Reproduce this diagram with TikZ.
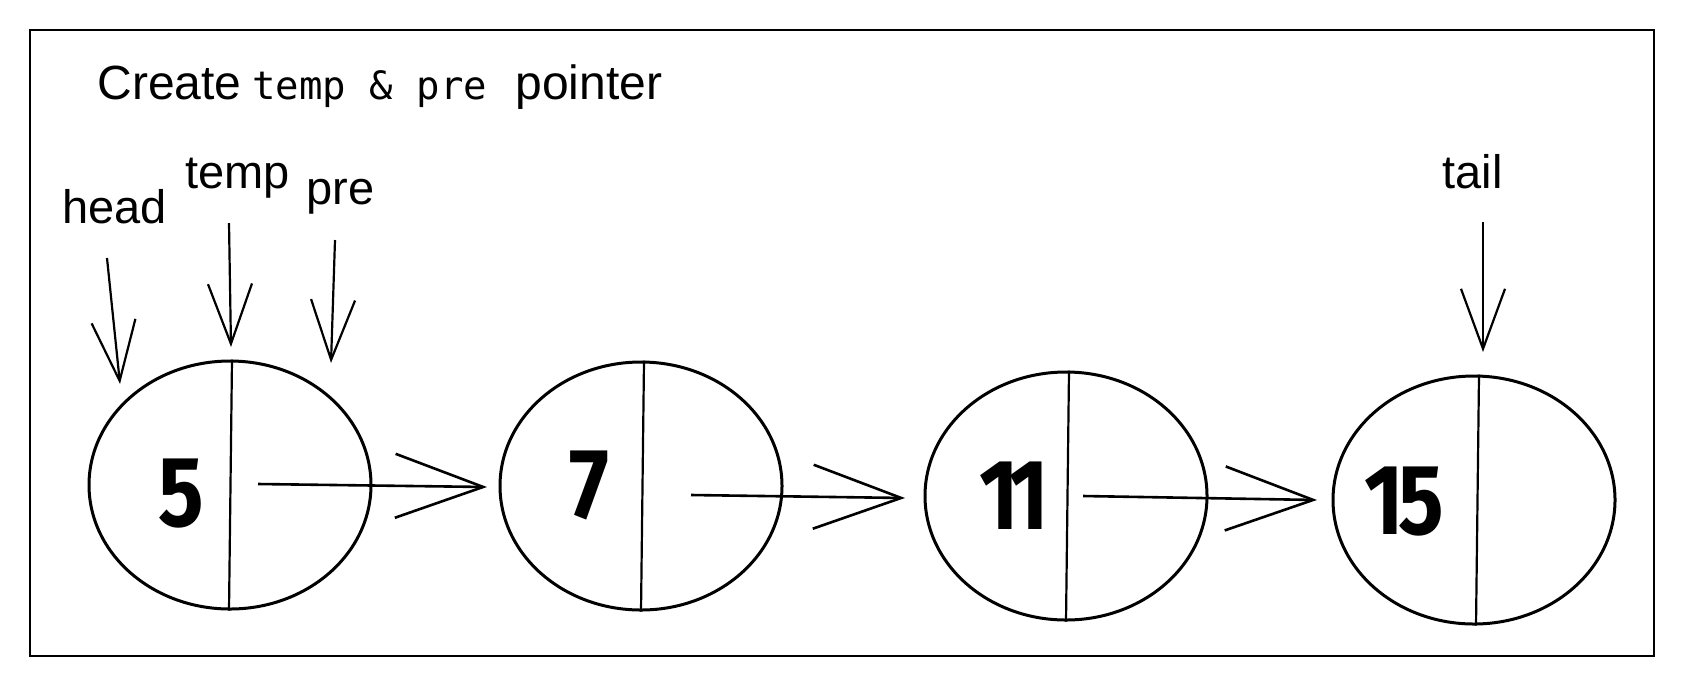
\documentclass[tikz,border=0pt]{standalone}
\usepackage{fontspec}
\setmainfont{Liberation Sans}
\newfontfamily\codefont{DejaVu Sans Mono}
\newfontfamily\numfont[FakeStretch=0.85]{Fira Sans}
\usetikzlibrary{arrows.meta,shapes.geometric}
\begin{document}
\begin{tikzpicture}[x=0.5pt,y=-0.5pt,
  listnode/.style={draw, ellipse, line width=1.5pt, minimum width=141pt, minimum height=124pt, inner sep=0pt},
  divider/.style={line width=1.1pt},
  numlabel/.style={font=\numfont\bfseries\fontsize{50}{50}\selectfont, inner sep=0pt},
  ptrlabel/.style={font=\fontsize{23.5}{26}\selectfont, inner sep=0pt, anchor=base west},
  titletext/.style={font=\fontsize{24}{28}\selectfont, inner sep=0pt, anchor=base west},
  ptrarrow/.style={line width=1.1pt, -{Straight Barb[length=30pt,width=22pt]}},
  linkarrow/.style={line width=1.3pt, -{Straight Barb[length=44pt,width=32pt]}},
  frame/.style={draw, line width=1.1pt}]
\useasboundingbox (0,0) rectangle (1684,687);
\draw[frame] (30,30) rectangle (1654,656);

% title
\node[titletext] (t1) at (97,99) {Create};
\node[titletext, font=\codefont\fontsize{19.5}{24}\selectfont] (t2) at (252,99) {temp \& pre};
\node[titletext] (t3) at (515,99) {pointer};

% list nodes
\node[listnode] (n1) at (230,485) {};
\node[listnode] (n2) at (641,486) {};
\node[listnode] (n3) at (1066,496) {};
\node[listnode] (n4) at (1474,500) {};

\draw[divider] ([xshift=1pt]n1.north) -- ([xshift=-0.5pt]n1.south);
\draw[divider] ([xshift=1.5pt]n2.north) -- ([xshift=0pt]n2.south);
\draw[divider] ([xshift=1.5pt]n3.north) -- ([xshift=0pt]n3.south);
\draw[divider] ([xshift=2.5pt]n4.north) -- ([xshift=1pt]n4.south);

\node[numlabel] (v1) at (181,494) {5};
\node[numlabel] (v2) at (589,485) {7};
\node[numlabel] (v3) at (1014,496) {1\kern-5pt1};
\node[numlabel] (v4) at (1404,502) {1\kern-3pt5};

% links
\coordinate (s1) at (258,484);
\coordinate (s2) at (691,495);
\coordinate (s3) at (1083,496);
\coordinate (e1) at (487,487);
\coordinate (e2) at (905,498);
\coordinate (e3) at (1317,500);
\draw[linkarrow] (s1) -- (e1);
\draw[linkarrow] (s2) -- (e2);
\draw[linkarrow] (s3) -- (e3);

% pointer labels
\node[ptrlabel] (head) at (62,223) {head};
\node[ptrlabel] (temp) at (185,188) {temp};
\node[ptrlabel] (pre) at (306,204) {pre};
\node[ptrlabel] (tail) at (1442,188) {tail};

\coordinate (ph1) at (107,258);
\coordinate (ph2) at (120,384);
\coordinate (pt1) at (229,223);
\coordinate (pt2) at (231,347);
\coordinate (pp1) at (335,240);
\coordinate (pp2) at (331,363);
\coordinate (pl1) at (1483,222);
\coordinate (pl2) at (1483,352);
\draw[ptrarrow] (ph1) -- (ph2);
\draw[ptrarrow] (pt1) -- (pt2);
\draw[ptrarrow] (pp1) -- (pp2);
\draw[ptrarrow] (pl1) -- (pl2);
\end{tikzpicture}
\end{document}
